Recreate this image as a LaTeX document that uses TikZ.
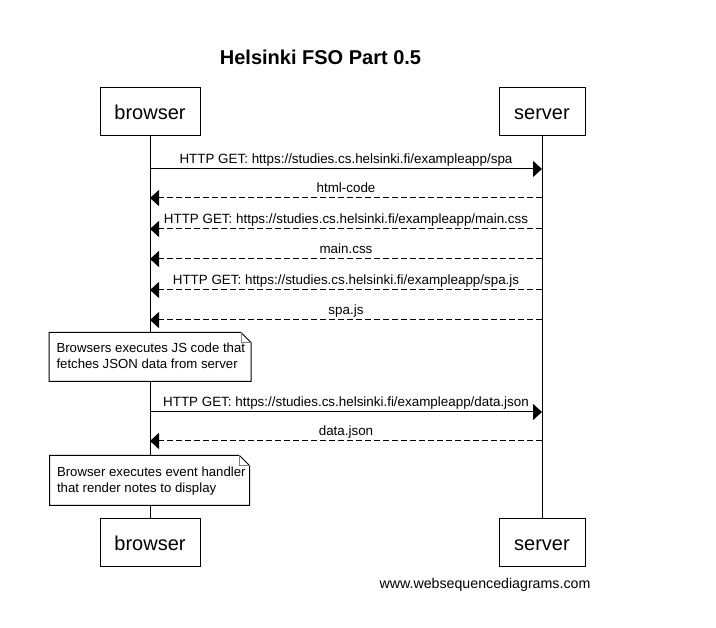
\documentclass[tikz,border=0pt]{standalone}
\usepackage{fontspec}
\setmainfont{Liberation Sans}
\usetikzlibrary{arrows.meta}
\begin{document}
\begin{tikzpicture}[x=1pt,y=-1pt,line width=1pt,
  actor/.style={draw,fill=white,minimum height=48pt,inner sep=0pt,text height=18pt,text depth=2pt,font=\fontsize{20}{24}\selectfont},
  msg/.style={-{Triangle[length=9pt,width=16pt]}},
  reply/.style={msg,dash pattern=on 6pt off 3pt},
  lbl/.style={font=\fontsize{13.4}{15}\selectfont,inner sep=0pt,anchor=base,yshift=5pt},
  notebox/.style={fill=white,minimum width=200pt,minimum height=48pt,inner sep=0pt},
  notetext/.style={font=\fontsize{13.2}{16}\selectfont,inner sep=0pt,anchor=base west},
  ]
\useasboundingbox (0,0) rectangle (716,628);
\node[font=\fontsize{20}{24}\selectfont\bfseries,anchor=base] (title) at (320.5,65) {Helsinki FSO Part 0.5};

\node[actor,minimum width=100pt] (bt) at (150,112) {browser};
\node[actor,minimum width=86pt] (st) at (542,112) {server};
\node[actor,minimum width=100pt] (bb) at (150,542.5) {browser};
\node[actor,minimum width=86pt] (sb) at (542,542.5) {server};

\draw (bt.south) -- (bb.north);
\draw (st.south) -- (sb.north);

% message coordinates
\foreach \i/\y in {1/169,2/198,3/229,4/259,5/290,6/320,7/412,8/441}{
  \coordinate (b\i) at (150,\y);
  \coordinate (s\i) at (542,\y);
}

\draw[msg] (b1) -- (s1) node[lbl,pos=0.5] {HTTP GET: https://studies.cs.helsinki.fi/exampleapp/spa};
\draw[reply] (s2) -- (b2) node[lbl,pos=0.5] {html-code};
\draw[reply] (s3) -- (b3) node[lbl,pos=0.5] {HTTP GET: https://studies.cs.helsinki.fi/exampleapp/main.css};
\draw[reply] (s4) -- (b4) node[lbl,pos=0.5] {main.css};
\draw[reply] (s5) -- (b5) node[lbl,pos=0.5] {HTTP GET: https://studies.cs.helsinki.fi/exampleapp/spa.js};
\draw[reply] (s6) -- (b6) node[lbl,pos=0.5] {spa.js};
\draw[msg] (b7) -- (s7) node[lbl,pos=0.5] {HTTP GET: https://studies.cs.helsinki.fi/exampleapp/data.json};
\draw[reply] (s8) -- (b8) node[lbl,pos=0.5] {data.json};

% notes
\node[notebox,minimum width=201pt] (n1) at (150,357) {};
\draw (n1.north west) -- ([xshift=-10pt]n1.north east) -- ([yshift=-10pt]n1.north east) -- (n1.south east) -- (n1.south west) -- cycle;
\draw[gray] ([xshift=-10pt]n1.north east) |- ([yshift=-10pt]n1.north east);
\node[notetext] (t1a) at ([xshift=7pt,yshift=-20pt]n1.north west) {Browsers executes JS code that};
\node[notetext] (t1b) at ([xshift=7pt,yshift=-36pt]n1.north west) {fetches JSON data from server};

\node[notebox,minimum width=199pt,minimum height=49pt] (n2) at (149.5,480.5) {};
\draw (n2.north west) -- ([xshift=-10pt]n2.north east) -- ([yshift=-10pt]n2.north east) -- (n2.south east) -- (n2.south west) -- cycle;
\draw[gray] ([xshift=-10pt]n2.north east) |- ([yshift=-10pt]n2.north east);
\node[notetext] (t2a) at ([xshift=7pt,yshift=-21pt]n2.north west) {Browser executes event handler};
\node[notetext] (t2b) at ([xshift=7pt,yshift=-37pt]n2.north west) {that render notes to display};

\node[font=\fontsize{14.2}{16}\selectfont,anchor=base] (foot) at (485,589) {www.websequencediagrams.com};
\end{tikzpicture}
\end{document}
